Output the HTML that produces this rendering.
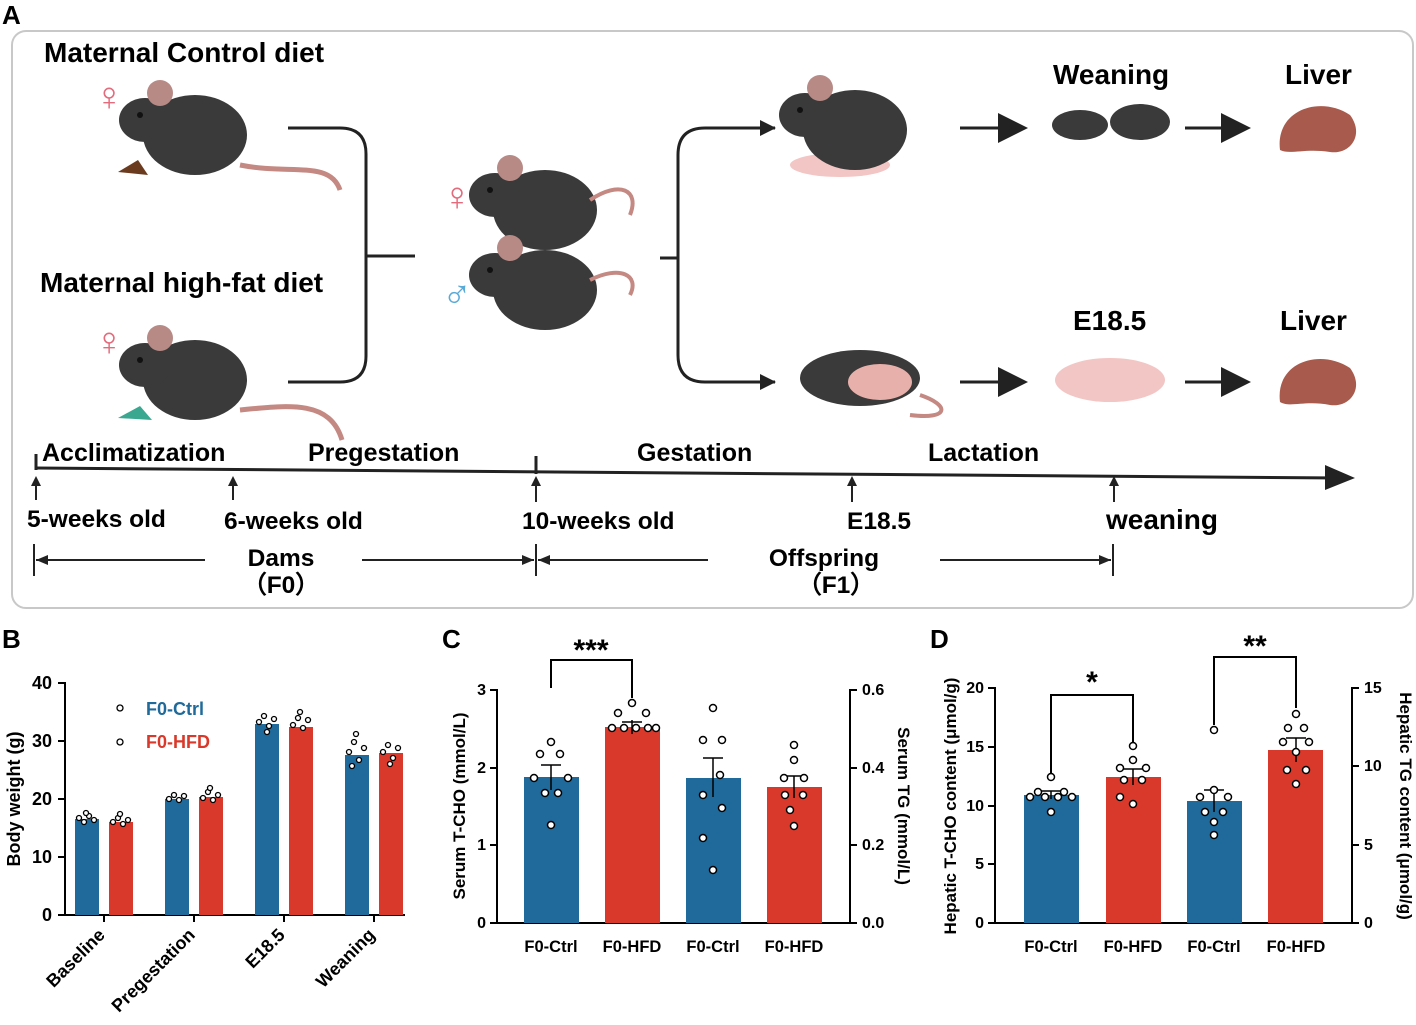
<!DOCTYPE html>
<html><head><meta charset="utf-8"><style>
html,body{margin:0;padding:0;background:#fff}
svg{display:block;font-family:"Liberation Sans",Arial,sans-serif}
</style></head><body>
<svg width="1416" height="1025" viewBox="0 0 1416 1025" xmlns="http://www.w3.org/2000/svg">
<defs>
<marker id="ah" markerWidth="10" markerHeight="10" refX="9" refY="5" orient="auto"><path d="M0,0 L10,5 L0,10 z" fill="#222"/></marker>
<g id="mouse">
<ellipse cx="0" cy="0" rx="52" ry="40" fill="#3a3a3a"/>
<ellipse cx="-50" cy="-15" rx="26" ry="22" fill="#3a3a3a"/>
<circle cx="-35" cy="-42" r="13" fill="#b78a86"/>
<circle cx="-55" cy="-20" r="3" fill="#111"/>
</g>
</defs>
<!-- Panel A -->
<text x="2" y="24" font-size="26" font-weight="bold">A</text>
<rect x="12" y="31" width="1401" height="577" rx="14" fill="none" stroke="#c8c8c8" stroke-width="2"/>
<text x="44" y="62" font-size="28" font-weight="bold">Maternal Control diet</text>
<text x="40" y="292" font-size="28" font-weight="bold">Maternal high-fat diet</text>
<text x="94" y="110" font-size="40" fill="#e36b7c">♀</text>
<text x="94" y="355" font-size="40" fill="#e36b7c">♀</text>
<use href="#mouse" x="195" y="135"/>
<path d="M240,165 C290,175 330,160 340,190" stroke="#c48982" stroke-width="5" fill="none"/>
<path d="M118,172 l20,-12 l10,15 z" fill="#6b3b1f"/>
<use href="#mouse" x="195" y="380"/>
<path d="M240,410 C290,405 330,400 342,440" stroke="#c48982" stroke-width="5" fill="none"/>
<path d="M118,418 l22,-12 l12,14 z" fill="#3aa890"/>
<path d="M288,128 H340 Q366,128 366,154 V356 Q366,382 340,382 H288" stroke="#222" stroke-width="3" fill="none"/>
<line x1="366" y1="256" x2="415" y2="256" stroke="#222" stroke-width="3"/>
<text x="442" y="210" font-size="40" fill="#e36b7c">♀</text>
<text x="442" y="308" font-size="40" fill="#5aaad8">♂</text>
<use href="#mouse" x="545" y="210"/>
<use href="#mouse" x="545" y="290"/>
<path d="M590,200 C620,180 640,190 630,215 M590,280 C620,265 640,275 630,295" stroke="#c48982" stroke-width="4" fill="none"/>
<line x1="660" y1="258" x2="678" y2="258" stroke="#222" stroke-width="3"/>
<path d="M775,128 H705 Q678,128 678,155 V355 Q678,382 705,382 H775" stroke="#222" stroke-width="3" fill="none"/>
<path d="M760,120 l16,8 l-16,8 z M760,374 l16,8 l-16,8 z" fill="#222"/>
<ellipse cx="840" cy="165" rx="50" ry="12" fill="#f2c6c4"/>
<use href="#mouse" x="855" y="130"/>
<ellipse cx="860" cy="378" rx="60" ry="28" fill="#3a3a3a"/>
<ellipse cx="880" cy="382" rx="32" ry="18" fill="#e8b0ab"/>
<path d="M920,395 C950,405 950,420 910,415" stroke="#c48982" stroke-width="4" fill="none"/>
<line x1="960" y1="128" x2="1025" y2="128" stroke="#222" stroke-width="3" marker-end="url(#ah)"/>
<line x1="960" y1="382" x2="1025" y2="382" stroke="#222" stroke-width="3" marker-end="url(#ah)"/>
<line x1="1185" y1="128" x2="1248" y2="128" stroke="#222" stroke-width="3" marker-end="url(#ah)"/>
<line x1="1185" y1="382" x2="1248" y2="382" stroke="#222" stroke-width="3" marker-end="url(#ah)"/>
<text x="1053" y="84" font-size="28" font-weight="bold">Weaning</text>
<text x="1285" y="84" font-size="28" font-weight="bold">Liver</text>
<text x="1073" y="330" font-size="28" font-weight="bold">E18.5</text>
<text x="1280" y="330" font-size="28" font-weight="bold">Liver</text>
<ellipse cx="1080" cy="125" rx="28" ry="15" fill="#3a3a3a"/><ellipse cx="1140" cy="122" rx="30" ry="18" fill="#3a3a3a"/>
<ellipse cx="1110" cy="380" rx="55" ry="22" fill="#f2c6c4"/>
<path d="M1280,150 C1275,110 1320,95 1350,115 C1365,135 1350,155 1330,152 C1305,148 1290,155 1280,150 z" fill="#a85a4c"/>
<path d="M1280,402 C1275,362 1320,348 1350,368 C1365,388 1350,408 1330,405 C1305,400 1290,408 1280,402 z" fill="#a85a4c"/>
<text x="42" y="461" font-size="25" font-weight="bold">Acclimatization</text>
<text x="308" y="461" font-size="25" font-weight="bold">Pregestation</text>
<text x="637" y="461" font-size="25" font-weight="bold">Gestation</text>
<text x="928" y="461" font-size="25" font-weight="bold">Lactation</text>
<line x1="36" y1="468" x2="1340" y2="478" stroke="#222" stroke-width="3"/>
<path d="M1325,465 L1355,478 L1325,490 z" fill="#222"/>
<line x1="36" y1="454" x2="36" y2="470" stroke="#222" stroke-width="3"/>
<line x1="536" y1="456" x2="536" y2="474" stroke="#222" stroke-width="3"/>
<g stroke="#222" stroke-width="2">
<line x1="36" y1="500" x2="36" y2="480"/><line x1="233" y1="500" x2="233" y2="480"/><line x1="536" y1="502" x2="536" y2="480"/><line x1="852" y1="502" x2="852" y2="480"/><line x1="1114" y1="502" x2="1114" y2="480"/>
</g>
<g fill="#222"><path d="M31,486 L36,476 L41,486z"/><path d="M228,486 L233,476 L238,486z"/><path d="M531,486 L536,476 L541,486z"/><path d="M847,486 L852,476 L857,486z"/><path d="M1109,486 L1114,476 L1119,486z"/></g>
<text x="27" y="527" font-size="24.5" font-weight="bold">5-weeks old</text>
<text x="224" y="529" font-size="24.5" font-weight="bold">6-weeks old</text>
<text x="522" y="529" font-size="24.5" font-weight="bold">10-weeks old</text>
<text x="847" y="529" font-size="24.5" font-weight="bold">E18.5</text>
<text x="1106" y="529" font-size="28" font-weight="bold">weaning</text>
<g stroke="#222" stroke-width="2">
<line x1="34" y1="544" x2="34" y2="576"/><line x1="536" y1="544" x2="536" y2="576"/><line x1="1113" y1="544" x2="1113" y2="576"/>
<line x1="36" y1="560" x2="205" y2="560"/><line x1="362" y1="560" x2="534" y2="560"/>
<line x1="538" y1="560" x2="708" y2="560"/><line x1="940" y1="560" x2="1111" y2="560"/>
</g>
<g fill="#222"><path d="M36,560 l12,-5 v10z"/><path d="M534,560 l-12,-5 v10z"/><path d="M538,560 l12,-5 v10z"/><path d="M1111,560 l-12,-5 v10z"/></g>
<text x="281" y="566" font-size="24.5" font-weight="bold" text-anchor="middle">Dams</text>
<text x="281" y="593" font-size="24.5" font-weight="bold" text-anchor="middle">（F0）</text>
<text x="824" y="566" font-size="24.5" font-weight="bold" text-anchor="middle">Offspring</text>
<text x="836" y="593" font-size="24.5" font-weight="bold" text-anchor="middle">（F1）</text>

<!-- Panel B -->
<text x="2" y="648" font-size="26" font-weight="bold">B</text>
<g stroke="#000" stroke-width="2" fill="none">
<line x1="65" y1="682" x2="65" y2="916"/><line x1="64" y1="915" x2="405" y2="915"/>
<line x1="58" y1="683" x2="65" y2="683"/><line x1="58" y1="741" x2="65" y2="741"/><line x1="58" y1="799" x2="65" y2="799"/><line x1="58" y1="857" x2="65" y2="857"/><line x1="58" y1="915" x2="65" y2="915"/>
<line x1="104" y1="915" x2="104" y2="922"/><line x1="194" y1="915" x2="194" y2="922"/><line x1="284" y1="915" x2="284" y2="922"/><line x1="374" y1="915" x2="374" y2="922"/>
</g>
<g font-size="18" font-weight="bold" text-anchor="end">
<text x="52" y="689">40</text><text x="52" y="747">30</text><text x="52" y="805">20</text><text x="52" y="863">10</text><text x="52" y="921">0</text>
</g>
<text transform="translate(20,799) rotate(-90)" font-size="18" font-weight="bold" text-anchor="middle">Body weight (g)</text>
<g fill="#1f6a9a"><rect x="75" y="819" width="24" height="96"/><rect x="165" y="799" width="24" height="116"/><rect x="255" y="724" width="24" height="191"/><rect x="345" y="755" width="24" height="160"/></g>
<g fill="#d9392b"><rect x="109" y="822" width="24" height="93"/><rect x="199" y="797" width="24" height="118"/><rect x="289" y="727" width="24" height="188"/><rect x="379" y="753" width="24" height="162"/></g>
<g fill="#fff" stroke="#000" stroke-width="1.3">
<circle cx="79" cy="818" r="2.5"/><circle cx="84" cy="822" r="2.5"/><circle cx="89" cy="816" r="2.5"/><circle cx="94" cy="820" r="2.5"/><circle cx="86" cy="813" r="2.5"/>
<circle cx="113" cy="822" r="2.5"/><circle cx="118" cy="818" r="2.5"/><circle cx="123" cy="824" r="2.5"/><circle cx="128" cy="820" r="2.5"/><circle cx="120" cy="814" r="2.5"/>
<circle cx="169" cy="799" r="2.5"/><circle cx="174" cy="795" r="2.5"/><circle cx="179" cy="800" r="2.5"/><circle cx="184" cy="796" r="2.5"/>
<circle cx="203" cy="798" r="2.5"/><circle cx="208" cy="792" r="2.5"/><circle cx="213" cy="800" r="2.5"/><circle cx="218" cy="795" r="2.5"/><circle cx="210" cy="788" r="2.5"/>
<circle cx="259" cy="722" r="2.5"/><circle cx="264" cy="716" r="2.5"/><circle cx="269" cy="726" r="2.5"/><circle cx="274" cy="719" r="2.5"/><circle cx="267" cy="732" r="2.5"/>
<circle cx="293" cy="725" r="2.5"/><circle cx="298" cy="718" r="2.5"/><circle cx="303" cy="728" r="2.5"/><circle cx="308" cy="720" r="2.5"/><circle cx="300" cy="712" r="2.5"/>
<circle cx="349" cy="752" r="2.5"/><circle cx="354" cy="742" r="2.5"/><circle cx="359" cy="760" r="2.5"/><circle cx="364" cy="748" r="2.5"/><circle cx="356" cy="734" r="2.5"/><circle cx="352" cy="766" r="2.5"/>
<circle cx="383" cy="752" r="2.5"/><circle cx="388" cy="745" r="2.5"/><circle cx="393" cy="758" r="2.5"/><circle cx="398" cy="748" r="2.5"/><circle cx="390" cy="764" r="2.5"/>
<circle cx="120" cy="708" r="3"/><circle cx="120" cy="742" r="3"/>
</g>
<text x="146" y="715" font-size="18" font-weight="bold" fill="#1f6a9a">F0-Ctrl</text>
<text x="146" y="748" font-size="18" font-weight="bold" fill="#d9392b">F0-HFD</text>
<g font-size="18" font-weight="bold" text-anchor="end">
<text transform="translate(106,936) rotate(-45)">Baseline</text>
<text transform="translate(196,936) rotate(-45)">Pregestation</text>
<text transform="translate(286,936) rotate(-45)">E18.5</text>
<text transform="translate(376,936) rotate(-45)">Weaning</text>
</g>

<!-- Panel C -->
<text x="442" y="648" font-size="26" font-weight="bold">C</text>
<g stroke="#000" stroke-width="2" fill="none">
<line x1="497" y1="689" x2="497" y2="924"/><line x1="850" y1="689" x2="850" y2="924"/><line x1="496" y1="923" x2="851" y2="923"/>
<line x1="490" y1="690" x2="497" y2="690"/><line x1="490" y1="768" x2="497" y2="768"/><line x1="490" y1="845" x2="497" y2="845"/><line x1="490" y1="923" x2="497" y2="923"/>
<line x1="850" y1="690" x2="857" y2="690"/><line x1="850" y1="768" x2="857" y2="768"/><line x1="850" y1="845" x2="857" y2="845"/><line x1="850" y1="923" x2="857" y2="923"/>
<polyline points="551,688 551,660 632,660 632,698"/>
</g>
<g font-size="16" font-weight="bold" text-anchor="end"><text x="486" y="695">3</text><text x="486" y="773">2</text><text x="486" y="850">1</text><text x="486" y="928">0</text></g>
<g font-size="16" font-weight="bold"><text x="862" y="695">0.6</text><text x="862" y="773">0.4</text><text x="862" y="850">0.2</text><text x="862" y="928">0.0</text></g>
<text transform="translate(465,806) rotate(-90)" font-size="17" font-weight="bold" text-anchor="middle">Serum T-CHO (mmol/L)</text>
<text transform="translate(898,806) rotate(90)" font-size="17" font-weight="bold" text-anchor="middle">Serum TG (mmol/L)</text>
<text x="591" y="660" font-size="30" font-weight="bold" text-anchor="middle">***</text>
<rect x="524" y="777" width="55" height="146" fill="#1f6a9a"/>
<rect x="605" y="727" width="55" height="196" fill="#d9392b"/>
<rect x="686" y="778" width="55" height="145" fill="#1f6a9a"/>
<rect x="767" y="787" width="55" height="136" fill="#d9392b"/>
<g stroke="#000" stroke-width="1.5"><line x1="551" y1="765" x2="551" y2="790"/><line x1="541" y1="765" x2="561" y2="765"/>
<line x1="632" y1="720" x2="632" y2="734"/><line x1="622" y1="722" x2="642" y2="722"/>
<line x1="713" y1="758" x2="713" y2="797"/><line x1="703" y1="758" x2="723" y2="758"/>
<line x1="794" y1="776" x2="794" y2="798"/><line x1="784" y1="776" x2="804" y2="776"/></g>
<g fill="#fff" stroke="#000" stroke-width="1.5">
<circle cx="551" cy="742" r="3.5"/><circle cx="540" cy="754" r="3.5"/><circle cx="560" cy="754" r="3.5"/><circle cx="534" cy="778" r="3.5"/><circle cx="568" cy="778" r="3.5"/><circle cx="545" cy="793" r="3.5"/><circle cx="558" cy="793" r="3.5"/><circle cx="551" cy="825" r="3.5"/>
<circle cx="632" cy="703" r="3.5"/><circle cx="618" cy="713" r="3.5"/><circle cx="646" cy="713" r="3.5"/><circle cx="612" cy="728" r="3.5"/><circle cx="624" cy="728" r="3.5"/><circle cx="636" cy="728" r="3.5"/><circle cx="648" cy="728" r="3.5"/><circle cx="656" cy="728" r="3.5"/>
<circle cx="713" cy="708" r="3.5"/><circle cx="703" cy="740" r="3.5"/><circle cx="722" cy="740" r="3.5"/><circle cx="720" cy="775" r="3.5"/><circle cx="703" cy="795" r="3.5"/><circle cx="722" cy="808" r="3.5"/><circle cx="703" cy="838" r="3.5"/><circle cx="713" cy="870" r="3.5"/>
<circle cx="794" cy="745" r="3.5"/><circle cx="794" cy="760" r="3.5"/><circle cx="784" cy="778" r="3.5"/><circle cx="804" cy="778" r="3.5"/><circle cx="785" cy="795" r="3.5"/><circle cx="803" cy="795" r="3.5"/><circle cx="790" cy="810" r="3.5"/><circle cx="794" cy="826" r="3.5"/>
</g>
<g font-size="16.5" font-weight="bold" text-anchor="middle"><text x="551" y="952">F0-Ctrl</text><text x="632" y="952">F0-HFD</text><text x="713" y="952">F0-Ctrl</text><text x="794" y="952">F0-HFD</text></g>

<!-- Panel D -->
<text x="930" y="648" font-size="26" font-weight="bold">D</text>
<g stroke="#000" stroke-width="2" fill="none">
<line x1="995" y1="687" x2="995" y2="924"/><line x1="1352" y1="687" x2="1352" y2="924"/><line x1="994" y1="923" x2="1353" y2="923"/>
<line x1="988" y1="688" x2="995" y2="688"/><line x1="988" y1="747" x2="995" y2="747"/><line x1="988" y1="806" x2="995" y2="806"/><line x1="988" y1="864" x2="995" y2="864"/><line x1="988" y1="923" x2="995" y2="923"/>
<line x1="1352" y1="688" x2="1359" y2="688"/><line x1="1352" y1="766" x2="1359" y2="766"/><line x1="1352" y1="845" x2="1359" y2="845"/><line x1="1352" y1="923" x2="1359" y2="923"/>
<polyline points="1051,773 1051,695 1133,695 1133,745"/>
<polyline points="1214,725 1214,657 1296,657 1296,708"/>
</g>
<g font-size="16" font-weight="bold" text-anchor="end"><text x="984" y="693">20</text><text x="984" y="752">15</text><text x="984" y="811">10</text><text x="984" y="869">5</text><text x="984" y="928">0</text></g>
<g font-size="16" font-weight="bold"><text x="1364" y="693">15</text><text x="1364" y="771">10</text><text x="1364" y="850">5</text><text x="1364" y="928">0</text></g>
<text transform="translate(956,806) rotate(-90)" font-size="17" font-weight="bold" text-anchor="middle">Hepatic T-CHO content (μmol/g)</text>
<text transform="translate(1400,806) rotate(90)" font-size="17" font-weight="bold" text-anchor="middle">Hepatic TG content (μmol/g)</text>
<text x="1092" y="692" font-size="30" font-weight="bold" text-anchor="middle">*</text>
<text x="1255" y="656" font-size="30" font-weight="bold" text-anchor="middle">**</text>
<rect x="1024" y="795" width="55" height="128" fill="#1f6a9a"/>
<rect x="1106" y="777" width="55" height="146" fill="#d9392b"/>
<rect x="1187" y="801" width="55" height="122" fill="#1f6a9a"/>
<rect x="1268" y="750" width="55" height="173" fill="#d9392b"/>
<g stroke="#000" stroke-width="1.5"><line x1="1051" y1="791" x2="1051" y2="799"/><line x1="1041" y1="791" x2="1061" y2="791"/>
<line x1="1133" y1="769" x2="1133" y2="785"/><line x1="1123" y1="769" x2="1143" y2="769"/>
<line x1="1214" y1="790" x2="1214" y2="812"/><line x1="1204" y1="790" x2="1224" y2="790"/>
<line x1="1296" y1="738" x2="1296" y2="762"/><line x1="1286" y1="738" x2="1306" y2="738"/></g>
<g fill="#fff" stroke="#000" stroke-width="1.5">
<circle cx="1051" cy="777" r="3.5"/><circle cx="1038" cy="792" r="3.5"/><circle cx="1064" cy="792" r="3.5"/><circle cx="1030" cy="797" r="3.5"/><circle cx="1045" cy="797" r="3.5"/><circle cx="1058" cy="797" r="3.5"/><circle cx="1072" cy="797" r="3.5"/><circle cx="1051" cy="812" r="3.5"/>
<circle cx="1133" cy="746" r="3.5"/><circle cx="1133" cy="760" r="3.5"/><circle cx="1120" cy="768" r="3.5"/><circle cx="1146" cy="768" r="3.5"/><circle cx="1124" cy="780" r="3.5"/><circle cx="1142" cy="780" r="3.5"/><circle cx="1120" cy="797" r="3.5"/><circle cx="1133" cy="804" r="3.5"/>
<circle cx="1214" cy="730" r="3.5"/><circle cx="1214" cy="790" r="3.5"/><circle cx="1200" cy="797" r="3.5"/><circle cx="1228" cy="797" r="3.5"/><circle cx="1205" cy="812" r="3.5"/><circle cx="1223" cy="812" r="3.5"/><circle cx="1214" cy="822" r="3.5"/><circle cx="1214" cy="835" r="3.5"/>
<circle cx="1296" cy="714" r="3.5"/><circle cx="1288" cy="728" r="3.5"/><circle cx="1304" cy="728" r="3.5"/><circle cx="1283" cy="742" r="3.5"/><circle cx="1309" cy="742" r="3.5"/><circle cx="1296" cy="752" r="3.5"/><circle cx="1287" cy="770" r="3.5"/><circle cx="1306" cy="770" r="3.5"/><circle cx="1296" cy="784" r="3.5"/>
</g>
<g font-size="16.5" font-weight="bold" text-anchor="middle"><text x="1051" y="952">F0-Ctrl</text><text x="1133" y="952">F0-HFD</text><text x="1214" y="952">F0-Ctrl</text><text x="1296" y="952">F0-HFD</text></g>
</svg>
</body></html>
